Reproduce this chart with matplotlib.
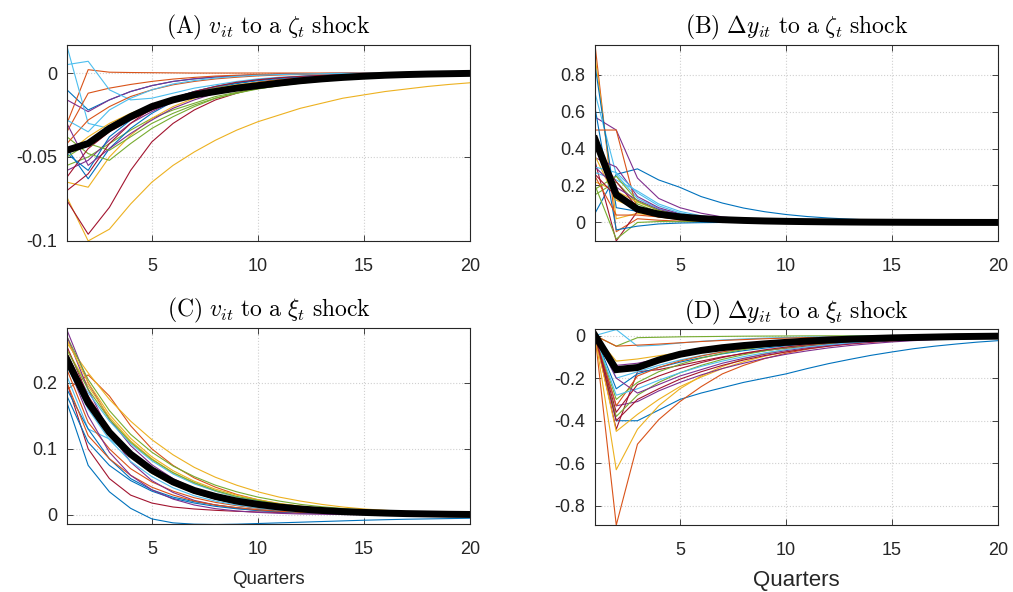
import matplotlib
matplotlib.use('Agg')
import matplotlib.pyplot as plt

plt.rcParams['font.family'] = ['Liberation Sans', 'DejaVu Sans']
plt.rcParams['mathtext.fontset'] = 'cm'
plt.rcParams['axes.unicode_minus'] = False

# MATLAB default colour order
matlab_colors = ['#0072BD', '#D95319', '#EDB120', '#7E2F8E', '#77AC30', '#4DBEEE', '#A2142F']

quarters = list(range(1, 21))

# (A) v_it to a zeta_t shock
lines_a = [
    [-0.010, -0.022, -0.016, -0.011, -0.0075, -0.005, -0.0035, -0.0024, -0.0016, -0.0011, -0.0007, -0.0005, -0.0003, -0.0002, -0.0001, 0, 0, 0, 0, 0],
    [-0.030, 0.002, 0.0005, 0.0003, 0.0002, 0.0001, 0, 0, 0, 0, 0, 0, 0, 0, 0, 0, 0, 0, 0, 0],
    [-0.074, -0.100, -0.093, -0.078, -0.065, -0.055, -0.047, -0.040, -0.034, -0.029, -0.025, -0.021, -0.018, -0.015, -0.013, -0.011, -0.0095, -0.008, -0.0068, -0.0058],
    [-0.016, -0.023, -0.016, -0.011, -0.0075, -0.005, -0.0034, -0.0023, -0.0016, -0.0011, -0.0007, -0.0005, -0.0003, -0.0002, -0.0001, 0, 0, 0, 0, 0],
    [-0.055, -0.050, -0.042, -0.034, -0.027, -0.022, -0.018, -0.014, -0.0115, -0.0093, -0.0075, -0.006, -0.0048, -0.0038, -0.003, -0.0024, -0.0019, -0.0015, -0.0012, -0.001],
    [0.016, -0.030, -0.033, -0.026, -0.020, -0.015, -0.011, -0.008, -0.006, -0.0044, -0.0032, -0.0023, -0.0017, -0.0012, -0.0009, -0.0006, -0.0004, -0.0003, -0.0002, -0.0001],
    [-0.076, -0.096, -0.080, -0.058, -0.041, -0.030, -0.022, -0.016, -0.012, -0.0088, -0.0065, -0.0048, -0.0035, -0.0026, -0.0019, -0.0014, -0.001, -0.0007, -0.0005, -0.0004],
    [-0.045, -0.063, -0.045, -0.033, -0.024, -0.017, -0.012, -0.0088, -0.0063, -0.0045, -0.0032, -0.0023, -0.0016, -0.0011, -0.0008, -0.0005, -0.0003, -0.0002, -0.0001, 0],
    [-0.035, -0.012, -0.009, -0.0068, -0.005, -0.0036, -0.0026, -0.0018, -0.0013, -0.0009, -0.0006, -0.0004, -0.0003, -0.0002, -0.0001, 0, 0, 0, 0, 0],
    [-0.065, -0.068, -0.050, -0.037, -0.027, -0.020, -0.015, -0.011, -0.008, -0.006, -0.0044, -0.0032, -0.0023, -0.0017, -0.0012, -0.0009, -0.0006, -0.0004, -0.0003, -0.0002],
    [-0.058, -0.052, -0.040, -0.030, -0.023, -0.017, -0.013, -0.010, -0.0075, -0.0055, -0.004, -0.003, -0.0022, -0.0016, -0.0012, -0.0008, -0.0006, -0.0004, -0.0003, -0.0002],
    [-0.038, -0.048, -0.052, -0.042, -0.033, -0.026, -0.020, -0.015, -0.012, -0.009, -0.007, -0.0052, -0.004, -0.003, -0.0023, -0.0017, -0.0013, -0.001, -0.0007, -0.0005],
    [0.005, 0.007, -0.010, -0.016, -0.015, -0.012, -0.009, -0.007, -0.005, -0.0035, -0.0025, -0.0018, -0.0012, -0.0008, -0.0005, -0.0003, -0.0002, -0.0001, 0, 0],
    [-0.062, -0.045, -0.035, -0.028, -0.022, -0.017, -0.013, -0.010, -0.0075, -0.0055, -0.004, -0.003, -0.002, -0.0015, -0.001, -0.0007, -0.0005, -0.0003, -0.0002, -0.0001],
    [-0.048, -0.058, -0.038, -0.028, -0.020, -0.015, -0.011, -0.008, -0.0058, -0.0042, -0.003, -0.0021, -0.0015, -0.001, -0.0007, -0.0005, -0.0003, -0.0002, -0.0001, 0],
    [-0.042, -0.028, -0.020, -0.014, -0.010, -0.007, -0.005, -0.0035, -0.0025, -0.0017, -0.0012, -0.0008, -0.0005, -0.0003, -0.0002, -0.0001, 0, 0, 0, 0],
    [-0.048, -0.038, -0.030, -0.024, -0.019, -0.015, -0.012, -0.009, -0.007, -0.0055, -0.0042, -0.0032, -0.0024, -0.0018, -0.0013, -0.001, -0.0007, -0.0005, -0.0004, -0.0003],
    [-0.030, -0.055, -0.045, -0.036, -0.028, -0.021, -0.016, -0.012, -0.009, -0.0065, -0.0047, -0.0034, -0.0025, -0.0018, -0.0013, -0.0009, -0.0006, -0.0004, -0.0003, -0.0002],
    [-0.050, -0.042, -0.046, -0.038, -0.030, -0.024, -0.019, -0.015, -0.012, -0.0095, -0.0075, -0.006, -0.0047, -0.0037, -0.0029, -0.0023, -0.0018, -0.0014, -0.0011, -0.0009],
    [-0.028, -0.035, -0.022, -0.015, -0.010, -0.0065, -0.0045, -0.003, -0.002, -0.0013, -0.0009, -0.0006, -0.0004, -0.0002, -0.0001, 0, 0, 0, 0, 0],
    [-0.070, -0.060, -0.042, -0.030, -0.021, -0.015, -0.011, -0.008, -0.0055, -0.004, -0.0028, -0.002, -0.0014, -0.001, -0.0007, -0.0005, -0.0003, -0.0002, -0.0001, 0],
]
mean_a = [-0.046, -0.042, -0.033, -0.026, -0.020, -0.016, -0.013, -0.011, -0.009, -0.0075, -0.006, -0.0046, -0.0035, -0.0026, -0.0019, -0.0013, -0.0009, -0.0006, -0.0004, -0.0002]

# (B) dy_it to a zeta_t shock
lines_b = [
    [0.05, 0.26, 0.29, 0.23, 0.19, 0.14, 0.105, 0.078, 0.058, 0.043, 0.032, 0.024, 0.018, 0.013, 0.010, 0.007, 0.005, 0.004, 0.003, 0.002],
    [0.96, -0.05, 0.02, 0.012, 0.007, 0.004, 0.0025, 0.0015, 0.001, 0.0006, 0.0004, 0.0002, 0.0001, 0, 0, 0, 0, 0, 0, 0],
    [0.90, 0.02, 0.05, 0.03, 0.018, 0.011, 0.007, 0.004, 0.0025, 0.0015, 0.001, 0.0006, 0.0004, 0.0002, 0.0001, 0, 0, 0, 0, 0],
    [0.57, 0.50, 0.24, 0.13, 0.08, 0.05, 0.03, 0.019, 0.012, 0.008, 0.005, 0.003, 0.002, 0.0012, 0.0008, 0.0005, 0.0003, 0.0002, 0.0001, 0],
    [0.15, 0.22, 0.10, 0.055, 0.032, 0.019, 0.012, 0.007, 0.0045, 0.0028, 0.0017, 0.001, 0.0006, 0.0004, 0.0002, 0.0001, 0, 0, 0, 0],
    [0.70, 0.26, 0.13, 0.075, 0.045, 0.028, 0.017, 0.011, 0.007, 0.0045, 0.0028, 0.0018, 0.0011, 0.0007, 0.0004, 0.0003, 0.0002, 0.0001, 0, 0],
    [0.33, -0.10, 0.06, 0.035, 0.02, 0.012, 0.007, 0.004, 0.0025, 0.0015, 0.0009, 0.0005, 0.0003, 0.0002, 0.0001, 0, 0, 0, 0, 0],
    [0.85, 0.08, 0.06, 0.035, 0.021, 0.013, 0.008, 0.005, 0.003, 0.002, 0.0012, 0.0008, 0.0005, 0.0003, 0.0002, 0.0001, 0, 0, 0, 0],
    [0.50, 0.50, 0.06, 0.03, 0.015, 0.008, 0.0045, 0.0025, 0.0014, 0.0008, 0.0004, 0.0002, 0.0001, 0, 0, 0, 0, 0, 0, 0],
    [0.22, 0.17, 0.11, 0.065, 0.04, 0.025, 0.015, 0.009, 0.0056, 0.0034, 0.0021, 0.0013, 0.0008, 0.0005, 0.0003, 0.0002, 0.0001, 0, 0, 0],
    [0.35, 0.30, 0.14, 0.08, 0.047, 0.028, 0.017, 0.010, 0.006, 0.0037, 0.0022, 0.0013, 0.0008, 0.0005, 0.0003, 0.0002, 0.0001, 0, 0, 0],
    [0.20, -0.09, 0.0, 0.005, 0.004, 0.003, 0.002, 0.0015, 0.001, 0.0007, 0.0005, 0.0003, 0.0002, 0.0001, 0, 0, 0, 0, 0, 0],
    [0.27, 0.23, 0.17, 0.10, 0.06, 0.036, 0.022, 0.013, 0.008, 0.005, 0.003, 0.0018, 0.0011, 0.0007, 0.0004, 0.0002, 0.0001, 0, 0, 0],
    [0.40, 0.22, 0.08, 0.045, 0.026, 0.015, 0.009, 0.0053, 0.0031, 0.0018, 0.0011, 0.0006, 0.0004, 0.0002, 0.0001, 0, 0, 0, 0, 0],
    [0.62, -0.04, -0.02, -0.008, -0.003, -0.001, 0, 0, 0, 0, 0, 0, 0, 0, 0, 0, 0, 0, 0, 0],
    [0.25, 0.04, 0.04, 0.03, 0.02, 0.013, 0.008, 0.005, 0.003, 0.002, 0.0012, 0.0007, 0.0004, 0.0002, 0.0001, 0, 0, 0, 0, 0],
    [0.36, 0.12, 0.075, 0.045, 0.027, 0.016, 0.010, 0.006, 0.0036, 0.0022, 0.0013, 0.0008, 0.0005, 0.0003, 0.0002, 0.0001, 0, 0, 0, 0],
    [0.30, 0.19, 0.12, 0.07, 0.042, 0.025, 0.015, 0.009, 0.0055, 0.0033, 0.002, 0.0012, 0.0007, 0.0004, 0.0002, 0.0001, 0, 0, 0, 0],
    [0.18, 0.25, 0.115, 0.065, 0.038, 0.023, 0.014, 0.0085, 0.005, 0.003, 0.0018, 0.0011, 0.0007, 0.0004, 0.0002, 0.0001, 0, 0, 0, 0],
    [0.30, 0.27, 0.16, 0.09, 0.052, 0.03, 0.018, 0.011, 0.0065, 0.004, 0.0024, 0.0014, 0.0009, 0.0005, 0.0003, 0.0002, 0.0001, 0, 0, 0],
    [0.26, 0.14, 0.06, 0.032, 0.018, 0.010, 0.006, 0.0035, 0.002, 0.0012, 0.0007, 0.0004, 0.0002, 0.0001, 0, 0, 0, 0, 0, 0],
]
mean_b = [0.45, 0.15, 0.072, 0.045, 0.03, 0.021, 0.015, 0.011, 0.008, 0.006, 0.0045, 0.0033, 0.0024, 0.0017, 0.0012, 0.0008, 0.0005, 0.0003, 0.0002, 0.0001]

# (C) v_it to a xi_t shock
lines_c = [
    [0.17, 0.075, 0.035, 0.010, -0.006, -0.012, -0.014, -0.0145, -0.014, -0.013, -0.012, -0.011, -0.010, -0.009, -0.008, -0.0072, -0.0065, -0.006, -0.0055, -0.005],
    [0.19, 0.212, 0.180, 0.135, 0.100, 0.075, 0.056, 0.042, 0.031, 0.023, 0.017, 0.013, 0.0095, 0.007, 0.005, 0.0038, 0.0028, 0.002, 0.0015, 0.001],
    [0.26, 0.215, 0.175, 0.142, 0.114, 0.091, 0.072, 0.057, 0.045, 0.035, 0.027, 0.021, 0.016, 0.012, 0.009, 0.007, 0.005, 0.004, 0.003, 0.002],
    [0.28, 0.20, 0.145, 0.105, 0.076, 0.055, 0.040, 0.029, 0.021, 0.015, 0.011, 0.008, 0.006, 0.0043, 0.0031, 0.0022, 0.0016, 0.0012, 0.0008, 0.0006],
    [0.27, 0.205, 0.158, 0.122, 0.095, 0.074, 0.058, 0.045, 0.035, 0.027, 0.021, 0.016, 0.0125, 0.0097, 0.0075, 0.0058, 0.0045, 0.0035, 0.0027, 0.002],
    [0.21, 0.13, 0.115, 0.09, 0.068, 0.05, 0.037, 0.027, 0.02, 0.015, 0.011, 0.008, 0.006, 0.0044, 0.0032, 0.0024, 0.0018, 0.0013, 0.001, 0.0007],
    [0.20, 0.10, 0.055, 0.030, 0.018, 0.012, 0.009, 0.007, 0.0055, 0.0045, 0.0037, 0.003, 0.0024, 0.0019, 0.0015, 0.0012, 0.0009, 0.0007, 0.0005, 0.0004],
    [0.19, 0.13, 0.085, 0.055, 0.038, 0.027, 0.02, 0.015, 0.011, 0.008, 0.006, 0.0045, 0.0034, 0.0025, 0.0019, 0.0014, 0.001, 0.0008, 0.0006, 0.0004],
    [0.22, 0.14, 0.10, 0.070, 0.050, 0.036, 0.026, 0.019, 0.014, 0.010, 0.0073, 0.0053, 0.0039, 0.0028, 0.002, 0.0015, 0.0011, 0.0008, 0.0006, 0.0004],
    [0.25, 0.195, 0.148, 0.112, 0.085, 0.064, 0.048, 0.036, 0.027, 0.020, 0.015, 0.011, 0.0083, 0.0062, 0.0046, 0.0034, 0.0025, 0.0019, 0.0014, 0.001],
    [0.27, 0.19, 0.125, 0.08, 0.052, 0.034, 0.022, 0.015, 0.010, 0.0068, 0.0046, 0.0031, 0.0021, 0.0014, 0.001, 0.0007, 0.0005, 0.0003, 0.0002, 0.0001],
    [0.24, 0.17, 0.122, 0.088, 0.063, 0.046, 0.033, 0.024, 0.017, 0.0125, 0.009, 0.0065, 0.0047, 0.0034, 0.0025, 0.0018, 0.0013, 0.0009, 0.0007, 0.0005],
    [0.235, 0.185, 0.142, 0.108, 0.082, 0.062, 0.047, 0.036, 0.027, 0.021, 0.016, 0.012, 0.009, 0.0069, 0.0052, 0.004, 0.003, 0.0023, 0.0017, 0.0013],
    [0.255, 0.18, 0.13, 0.094, 0.068, 0.049, 0.035, 0.025, 0.018, 0.013, 0.0094, 0.0068, 0.0049, 0.0035, 0.0025, 0.0018, 0.0013, 0.0009, 0.0007, 0.0005],
    [0.18, 0.11, 0.075, 0.052, 0.036, 0.025, 0.018, 0.013, 0.0093, 0.0067, 0.0048, 0.0035, 0.0025, 0.0018, 0.0013, 0.0009, 0.0007, 0.0005, 0.0003, 0.0002],
    [0.20, 0.12, 0.085, 0.06, 0.042, 0.03, 0.021, 0.015, 0.011, 0.0077, 0.0055, 0.0039, 0.0028, 0.002, 0.0014, 0.001, 0.0007, 0.0005, 0.0004, 0.0003],
    [0.265, 0.20, 0.152, 0.116, 0.088, 0.067, 0.051, 0.039, 0.03, 0.023, 0.0175, 0.0133, 0.0101, 0.0077, 0.0059, 0.0045, 0.0034, 0.0026, 0.002, 0.0015],
    [0.23, 0.15, 0.095, 0.06, 0.038, 0.024, 0.015, 0.0095, 0.006, 0.0038, 0.0024, 0.0015, 0.001, 0.0006, 0.0004, 0.0002, 0.0001, 0.0001, 0, 0],
    [0.25, 0.19, 0.145, 0.11, 0.084, 0.064, 0.049, 0.037, 0.028, 0.022, 0.0165, 0.0126, 0.0096, 0.0073, 0.0056, 0.0043, 0.0032, 0.0025, 0.0019, 0.0014],
    [0.225, 0.16, 0.114, 0.081, 0.058, 0.041, 0.029, 0.021, 0.015, 0.0106, 0.0075, 0.0053, 0.0038, 0.0027, 0.0019, 0.0014, 0.001, 0.0007, 0.0005, 0.0004],
    [0.245, 0.175, 0.126, 0.09, 0.065, 0.047, 0.034, 0.024, 0.0175, 0.0126, 0.009, 0.0065, 0.0047, 0.0034, 0.0024, 0.0017, 0.0012, 0.0009, 0.0006, 0.0005],
]
mean_c = [0.235, 0.17, 0.125, 0.092, 0.068, 0.05, 0.037, 0.028, 0.021, 0.016, 0.012, 0.009, 0.0068, 0.005, 0.0038, 0.0028, 0.002, 0.0015, 0.001, 0.0007]

# (D) dy_it to a xi_t shock
lines_d = [
    [0, -0.40, -0.40, -0.35, -0.30, -0.27, -0.245, -0.22, -0.20, -0.18, -0.155, -0.132, -0.112, -0.093, -0.077, -0.062, -0.05, -0.04, -0.031, -0.024],
    [0, -0.89, -0.51, -0.395, -0.31, -0.24, -0.18, -0.14, -0.108, -0.083, -0.064, -0.049, -0.038, -0.029, -0.022, -0.017, -0.013, -0.01, -0.008, -0.006],
    [0, -0.63, -0.44, -0.33, -0.25, -0.19, -0.145, -0.11, -0.085, -0.065, -0.05, -0.038, -0.029, -0.022, -0.017, -0.013, -0.01, -0.008, -0.006, -0.004],
    [0, -0.14, -0.13, -0.11, -0.09, -0.074, -0.06, -0.049, -0.04, -0.033, -0.027, -0.022, -0.018, -0.014, -0.011, -0.009, -0.007, -0.0055, -0.0043, -0.0033],
    [0, -0.05, -0.01, -0.008, -0.006, -0.005, -0.004, -0.003, -0.0025, -0.002, -0.0015, -0.0012, -0.001, -0.0008, -0.0006, -0.0005, -0.0004, -0.0003, -0.0002, -0.0002],
    [0, 0.028, -0.05, -0.045, -0.035, -0.027, -0.021, -0.016, -0.012, -0.009, -0.007, -0.0053, -0.004, -0.003, -0.0023, -0.0017, -0.0013, -0.001, -0.0007, -0.0005],
    [0, -0.44, -0.17, -0.16, -0.14, -0.12, -0.10, -0.085, -0.071, -0.059, -0.049, -0.04, -0.033, -0.027, -0.022, -0.018, -0.014, -0.011, -0.009, -0.007],
    [0, -0.25, -0.18, -0.15, -0.125, -0.104, -0.086, -0.071, -0.059, -0.048, -0.039, -0.032, -0.026, -0.021, -0.017, -0.013, -0.01, -0.008, -0.006, -0.005],
    [0, -0.05, -0.045, -0.04, -0.034, -0.028, -0.023, -0.019, -0.015, -0.012, -0.0095, -0.0075, -0.006, -0.0047, -0.0037, -0.0029, -0.0022, -0.0017, -0.0013, -0.001],
    [0, -0.45, -0.37, -0.30, -0.24, -0.195, -0.155, -0.123, -0.097, -0.076, -0.06, -0.047, -0.036, -0.028, -0.022, -0.017, -0.013, -0.01, -0.008, -0.006],
    [0, -0.33, -0.31, -0.26, -0.22, -0.185, -0.155, -0.13, -0.107, -0.088, -0.072, -0.058, -0.047, -0.038, -0.03, -0.024, -0.019, -0.015, -0.012, -0.009],
    [0, -0.38, -0.28, -0.22, -0.175, -0.14, -0.112, -0.09, -0.072, -0.057, -0.045, -0.036, -0.028, -0.022, -0.017, -0.013, -0.01, -0.008, -0.006, -0.005],
    [0, -0.20, -0.17, -0.14, -0.115, -0.094, -0.077, -0.063, -0.051, -0.041, -0.033, -0.026, -0.021, -0.017, -0.013, -0.01, -0.008, -0.006, -0.005, -0.004],
    [0, -0.40, -0.30, -0.25, -0.205, -0.17, -0.14, -0.115, -0.094, -0.077, -0.062, -0.05, -0.04, -0.032, -0.025, -0.02, -0.016, -0.012, -0.009, -0.007],
    [0, -0.16, -0.14, -0.115, -0.095, -0.078, -0.064, -0.052, -0.042, -0.034, -0.027, -0.022, -0.017, -0.014, -0.011, -0.0085, -0.0067, -0.0052, -0.004, -0.0031],
    [0, -0.33, -0.19, -0.15, -0.12, -0.096, -0.077, -0.061, -0.049, -0.039, -0.031, -0.024, -0.019, -0.015, -0.012, -0.009, -0.007, -0.0055, -0.0043, -0.0033],
    [0, -0.12, -0.11, -0.095, -0.08, -0.066, -0.054, -0.044, -0.036, -0.029, -0.023, -0.019, -0.015, -0.012, -0.0095, -0.0075, -0.006, -0.0047, -0.0037, -0.0029],
    [0, -0.20, -0.27, -0.23, -0.19, -0.16, -0.13, -0.107, -0.088, -0.071, -0.057, -0.046, -0.037, -0.029, -0.023, -0.018, -0.014, -0.011, -0.009, -0.007],
    [0, -0.30, -0.22, -0.17, -0.135, -0.106, -0.084, -0.066, -0.052, -0.041, -0.032, -0.025, -0.02, -0.015, -0.012, -0.009, -0.007, -0.0055, -0.0043, -0.0033],
    [0, -0.28, -0.25, -0.21, -0.175, -0.145, -0.12, -0.099, -0.081, -0.066, -0.053, -0.043, -0.034, -0.027, -0.022, -0.017, -0.013, -0.01, -0.008, -0.006],
    [0, -0.36, -0.23, -0.19, -0.155, -0.127, -0.103, -0.083, -0.067, -0.054, -0.043, -0.034, -0.027, -0.021, -0.017, -0.013, -0.01, -0.008, -0.006, -0.005],
]
mean_d = [0, -0.16, -0.15, -0.115, -0.088, -0.07, -0.057, -0.047, -0.039, -0.032, -0.026, -0.021, -0.017, -0.014, -0.011, -0.009, -0.007, -0.005, -0.004, -0.003]

titles = [r'$\mathrm{(A)}\ v_{it}\ \mathrm{to\ a}\ \zeta_t\ \mathrm{shock}$',
          r'$\mathrm{(B)}\ \Delta y_{it}\ \mathrm{to\ a}\ \zeta_t\ \mathrm{shock}$',
          r'$\mathrm{(C)}\ v_{it}\ \mathrm{to\ a}\ \xi_t\ \mathrm{shock}$',
          r'$\mathrm{(D)}\ \Delta y_{it}\ \mathrm{to\ a}\ \xi_t\ \mathrm{shock}$']
ylims = [(-0.1, 0.0167), (-0.1, 0.96), (-0.0136, 0.283), (-0.89, 0.03)]
yticks = [[-0.1, -0.05, 0], [0, 0.2, 0.4, 0.6, 0.8], [0, 0.1, 0.2], [-0.8, -0.6, -0.4, -0.2, 0]]
ylabels_txt = [['-0.1', '-0.05', '0'], ['0', '0.2', '0.4', '0.6', '0.8'],
               ['0', '0.1', '0.2'], ['-0.8', '-0.6', '-0.4', '-0.2', '0']]

fig = plt.figure(figsize=(10.13, 5.92), dpi=100)
pos = [[0.0661, 0.593, 0.398, 0.331],
       [0.5874, 0.593, 0.398, 0.331],
       [0.0661, 0.115, 0.398, 0.331],
       [0.5874, 0.113, 0.398, 0.331]]
all_lines = [lines_a, lines_b, lines_c, lines_d]
all_means = [mean_a, mean_b, mean_c, mean_d]

axc = '#262626'
for k in range(4):
    ax = fig.add_axes(pos[k])
    for i, ln in enumerate(all_lines[k]):
        ax.plot(quarters, ln, color=matlab_colors[i % 7], lw=0.8)
    ax.plot(quarters, all_means[k], color='black', lw=5, solid_joinstyle='miter')
    ax.set_xlim(1, 20)
    ax.set_ylim(*ylims[k])
    ax.set_xticks([5, 10, 15, 20])
    ax.set_yticks(yticks[k])
    ax.set_yticklabels(ylabels_txt[k])
    ax.grid(True, linestyle=':', color='#d0d0d0', lw=0.8)
    ax.tick_params(direction='in', top=True, right=True, length=4, width=0.6,
                   labelsize=13, colors=axc)
    ax.tick_params(axis='x', pad=12)
    ax.tick_params(axis='y', pad=7)
    for s in ax.spines.values():
        s.set_color(axc)
        s.set_linewidth(0.8)
    ax.set_title(titles[k], fontsize=17, pad=8)
    if k == 2:
        ax.set_xlabel('Quarters', fontsize=13.5, color=axc, labelpad=10)
    if k == 3:
        ax.set_xlabel('Quarters', fontsize=16, color=axc, labelpad=8)

plt.savefig('out.png', dpi=100)
